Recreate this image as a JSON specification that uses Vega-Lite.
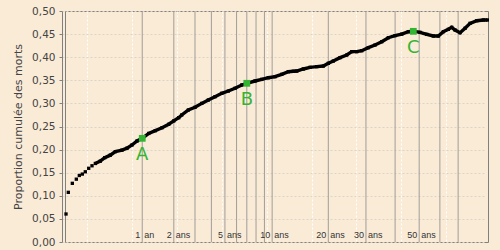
{
  "$schema": "https://vega.github.io/schema/vega-lite/v6.json",
  "width": 423,
  "height": 231,
  "autosize": {"type": "none"},
  "padding": {"left": 65, "top": 11, "right": 12, "bottom": 8},
  "background": "#FAEBD7",
  "config": {
    "view": {"stroke": "#808080", "strokeWidth": 1, "fill": "#FAEBD7"},
    "font": "DejaVu Sans",
    "axisY": {
      "tickCount": 11,
      "offset": 3,
      "domain": true,
      "domainColor": "#808080",
      "tickColor": "#808080",
      "tickSize": 3,
      "labelPadding": 4,
      "labelFlush": false,
      "labelOverlap": false,
      "labelFont": "DejaVu Sans",
      "labelFontSize": 10.5,
      "labelColor": "#444444",
      "titleFont": "DejaVu Sans",
      "titleFontSize": 11,
      "titleFontWeight": "normal",
      "titleColor": "#444444",
      "grid": true,
      "gridColor": "#ddd4c6",
      "gridDash": [2, 2],
      "gridWidth": 1
    },
    "axisX": {
      "labels": false,
      "ticks": false,
      "domain": false,
      "grid": true,
      "gridColor": "#ffffff",
      "gridDash": [2, 2],
      "gridWidth": 1
    }
  },
  "datasets": {
    "curve": [
      {"age": 0.0871, "p": 0.0606},
      {"age": 0.0963, "p": 0.1075},
      {"age": 0.114, "p": 0.127},
      {"age": 0.134, "p": 0.136},
      {"age": 0.1506, "p": 0.144},
      {"age": 0.1688, "p": 0.147},
      {"age": 0.1885, "p": 0.152},
      {"age": 0.2129, "p": 0.1595},
      {"age": 0.2388, "p": 0.165},
      {"age": 0.267, "p": 0.17},
      {"age": 0.3144, "p": 0.175},
      {"age": 0.3611, "p": 0.1825},
      {"age": 0.4277, "p": 0.188},
      {"age": 0.4948, "p": 0.1955},
      {"age": 0.5965, "p": 0.199},
      {"age": 0.6821, "p": 0.203},
      {"age": 0.7765, "p": 0.21},
      {"age": 0.8805, "p": 0.2186},
      {"age": 1.0, "p": 0.2244},
      {"age": 1.1645, "p": 0.235},
      {"age": 1.3519, "p": 0.241},
      {"age": 1.5651, "p": 0.2474},
      {"age": 1.802, "p": 0.2548},
      {"age": 1.996, "p": 0.262},
      {"age": 2.2044, "p": 0.269},
      {"age": 2.3376, "p": 0.2749},
      {"age": 2.6518, "p": 0.2857},
      {"age": 3.0012, "p": 0.2915},
      {"age": 3.385, "p": 0.3},
      {"age": 3.7967, "p": 0.3074},
      {"age": 4.2523, "p": 0.3145},
      {"age": 4.7489, "p": 0.3218},
      {"age": 5.2776, "p": 0.3268},
      {"age": 5.8603, "p": 0.3327},
      {"age": 6.4883, "p": 0.3398},
      {"age": 7.0, "p": 0.3435},
      {"age": 7.8848, "p": 0.3485},
      {"age": 8.6689, "p": 0.352},
      {"age": 9.495, "p": 0.3556},
      {"age": 10.393, "p": 0.3578},
      {"age": 11.355, "p": 0.363},
      {"age": 12.365, "p": 0.3686},
      {"age": 13.176, "p": 0.3695},
      {"age": 13.749, "p": 0.37},
      {"age": 14.912, "p": 0.3745},
      {"age": 16.167, "p": 0.378},
      {"age": 17.503, "p": 0.3795},
      {"age": 18.895, "p": 0.381},
      {"age": 20.006, "p": 0.3868},
      {"age": 21.165, "p": 0.3918},
      {"age": 22.793, "p": 0.399},
      {"age": 24.514, "p": 0.4048},
      {"age": 25.862, "p": 0.412},
      {"age": 27.266, "p": 0.412},
      {"age": 28.721, "p": 0.414},
      {"age": 30.737, "p": 0.4206},
      {"age": 32.886, "p": 0.4264},
      {"age": 35.145, "p": 0.4335},
      {"age": 37.487, "p": 0.4422},
      {"age": 39.977, "p": 0.4466},
      {"age": 42.595, "p": 0.45},
      {"age": 45.291, "p": 0.4552},
      {"age": 47.423, "p": 0.4565},
      {"age": 50.388, "p": 0.4538},
      {"age": 53.499, "p": 0.4496},
      {"age": 56.693, "p": 0.4459},
      {"age": 59.214, "p": 0.4459},
      {"age": 61.81, "p": 0.4552},
      {"age": 64.497, "p": 0.4603},
      {"age": 66.374, "p": 0.4646},
      {"age": 68.226, "p": 0.4589},
      {"age": 71.119, "p": 0.453},
      {"age": 74.094, "p": 0.4625},
      {"age": 77.171, "p": 0.4733},
      {"age": 81.443, "p": 0.479},
      {"age": 85.812, "p": 0.4805},
      {"age": 88.552, "p": 0.4805}
    ],
    "markers": [
      {"age": 1.0, "p": 0.2244, "label": "A"},
      {"age": 7.0, "p": 0.3435, "label": "B"},
      {"age": 47.42, "p": 0.456, "label": "C"}
    ],
    "agelines": [
      {"age": 1}, {"age": 2}, {"age": 3}, {"age": 4}, {"age": 5},
      {"age": 6}, {"age": 7}, {"age": 8}, {"age": 9}, {"age": 10},
      {"age": 20}, {"age": 30}, {"age": 40}, {"age": 50}, {"age": 60}, {"age": 70}
    ],
    "agelabels": [
      {"age": 1, "num": "1", "unit": "an"},
      {"age": 2, "num": "2", "unit": "ans"},
      {"age": 5, "num": "5", "unit": "ans"},
      {"age": 10, "num": "10", "unit": "ans"},
      {"age": 20, "num": "20", "unit": "ans"},
      {"age": 30, "num": "30", "unit": "ans"},
      {"age": 50, "num": "50", "unit": "ans"}
    ]
  },
  "layer": [
    {
      "data": {"name": "agelines"},
      "mark": {"type": "rule", "color": "#a09d98", "strokeWidth": 1},
      "encoding": {
        "x": {
          "field": "age",
          "type": "quantitative",
          "scale": {"type": "pow", "exponent": 0.25, "domain": [0.0833, 89], "zero": false, "nice": false},
          "axis": {"title": null, "values": [0.2035, 0.4219, 0.7816, 1.3333, 2.136, 3.255, 4.766, 6.75, 9.297, 12.505, 16.479, 21.333, 27.188, 34.172, 42.422, 52.083, 63.307, 76.255]}
        }
      }
    },
    {
      "data": {"name": "curve"},
      "transform": [{"filter": "datum.age >= 0.25"}],
      "mark": {"type": "line", "color": "#000000", "strokeWidth": 3.4},
      "encoding": {
        "x": {
          "field": "age",
          "type": "quantitative",
          "axis": {"title": null, "values": [0.2035, 0.4219, 0.7816, 1.3333, 2.136, 3.255, 4.766, 6.75, 9.297, 12.505, 16.479, 21.333, 27.188, 34.172, 42.422, 52.083, 63.307, 76.255]}
        },
        "y": {
          "field": "p",
          "type": "quantitative",
          "scale": {"domain": [0, 0.5], "nice": false, "zero": true},
          "axis": {
            "values": [0, 0.05, 0.1, 0.15, 0.2, 0.25, 0.3, 0.35, 0.4, 0.45, 0.5],
            "labelExpr": "replace(format(datum.value, '.2f'), '.', ',')",
            "title": "Proportion cumulée des morts",
            "titleAngle": -90,
            "titleX": -44,
            "titleY": 115.5,
            "titleAlign": "center",
            "titleBaseline": "middle"
          }
        }
      }
    },
    {
      "data": {"name": "curve"},
      "mark": {"type": "square", "size": 11, "color": "#000000", "opacity": 1},
      "encoding": {
        "x": {"field": "age", "type": "quantitative"},
        "y": {"field": "p", "type": "quantitative"}
      }
    },
    {
      "data": {"name": "markers"},
      "mark": {"type": "square", "size": 46, "color": "#33b533", "opacity": 1},
      "encoding": {
        "x": {"field": "age", "type": "quantitative"},
        "y": {"field": "p", "type": "quantitative"}
      }
    },
    {
      "data": {"name": "markers"},
      "mark": {"type": "text", "color": "#33b533", "fontSize": 18, "font": "DejaVu Sans", "baseline": "middle", "align": "center", "dy": 17},
      "encoding": {
        "x": {"field": "age", "type": "quantitative"},
        "y": {"field": "p", "type": "quantitative"},
        "text": {"field": "label"}
      }
    },
    {
      "data": {"name": "agelabels"},
      "mark": {"type": "text", "color": "#333333", "fontSize": 9, "font": "Liberation Sans", "baseline": "alphabetic", "align": "right", "dx": -2},
      "encoding": {
        "x": {"field": "age", "type": "quantitative"},
        "y": {"datum": 0.0087, "type": "quantitative"},
        "text": {"field": "num"}
      }
    },
    {
      "data": {"name": "agelabels"},
      "mark": {"type": "text", "color": "#333333", "fontSize": 9, "font": "Liberation Sans", "baseline": "alphabetic", "align": "left", "dx": 2},
      "encoding": {
        "x": {"field": "age", "type": "quantitative"},
        "y": {"datum": 0.0087, "type": "quantitative"},
        "text": {"field": "unit"}
      }
    }
  ]
}
